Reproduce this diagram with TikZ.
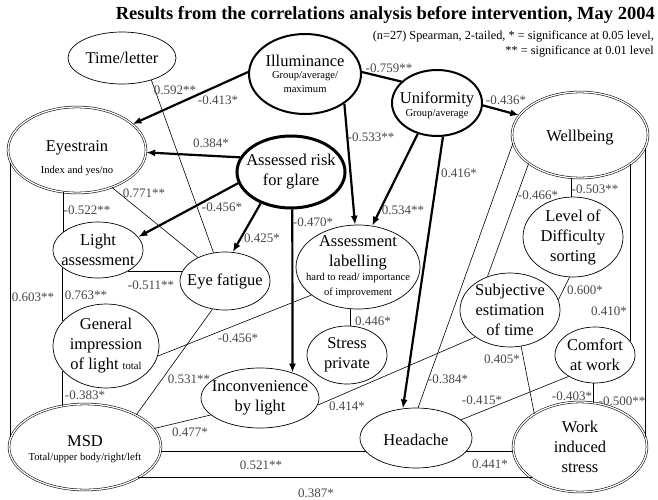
\documentclass[tikz,border=0pt]{standalone}
\usepackage{fontspec}
\setmainfont{Liberation Serif}
\usetikzlibrary{arrows.meta,shapes.geometric}
\newcommand\smtxt{\fontsize{10.6}{12}\selectfont}
\newcommand\lbtxt{\fontsize{13}{15}\selectfont}
\begin{document}
\begin{tikzpicture}[x=1pt,y=-1pt,
  ell/.style={ellipse, draw, line width=0.7pt, inner sep=-12pt, align=center, font=\fontsize{16.5}{20}\selectfont},
  dbl/.style={double, double distance=1.3pt, line width=0.55pt},
  thk/.style={line width=2pt},
  thkk/.style={line width=3pt},
  conn/.style={line width=0.6pt},
  orth/.style={line width=0.9pt},
  thkl/.style={line width=2.2pt},
  arr/.style={line width=2.2pt, -{Latex[length=9pt,width=7pt]}},
  lbl/.style={font=\lbtxt, text=black!72, inner sep=0pt}]
\useasboundingbox (0,0) rectangle (658,500);
% title
\node[anchor=east, inner sep=0pt, font=\bfseries\fontsize{18.5}{20}\selectfont] (title) at (655,15) {Results from the correlations analysis before intervention, May 2004};
\node[anchor=east, inner sep=0pt, font=\fontsize{12.3}{15}\selectfont] (sub1) at (654,36) {(n=27) Spearman, 2-tailed, * = significance at 0.05 level,};
\node[anchor=east, inner sep=0pt, font=\fontsize{12.3}{15}\selectfont] (sub2) at (654,51) {** = significance at 0.01 level};
% nodes
\node[ell, minimum width=108pt, minimum height=52pt] (ti) at (122,58) {Time/letter};
\node[ell, thk, minimum width=112pt, minimum height=80pt] (il) at (305,74) {Illuminance\\[-8pt]{\smtxt Group/average/}\\[-6pt]{\smtxt maximum}};
\node[ell, thk, minimum width=90pt, minimum height=66pt] (un) at (437,103) {\rule{0pt}{17pt}Uniformity\\[-7pt]{\smtxt Group/average}};
\node[ell, dbl, minimum width=136pt, minimum height=86pt] (wb) at (580,135) {\rule{0pt}{16pt}Wellbeing};
\node[ell, dbl, minimum width=138pt, minimum height=86pt] (es) at (77,150) {\rule{0pt}{27pt}Eyestrain\\[2pt]{\smtxt Index and yes/no}};
\node[ell, thkk, minimum width=108pt, minimum height=72pt] (rg) at (291,172) {Assessed risk\\for glare};
\node[ell, minimum width=90pt, minimum height=56pt] (la) at (98,250) {Light\\assessment};
\node[ell, minimum width=90pt, minimum height=58pt] (ef) at (225,281) {Eye fatigue};
\node[ell, minimum width=106pt, minimum height=84pt] (gi) at (106,346) {General\\impression\\of light {\smtxt total}};
\node[ell, dbl, minimum width=152pt, minimum height=86pt] (msd) at (85,447) {\rule{0pt}{16pt}MSD\\[-6pt]{\smtxt Total/upper body/right/left}};
\node[ell, minimum width=124pt, minimum height=84pt] (al) at (358,267) {Assessment\\labelling\\[-6pt]{\smtxt hard to read/ importance}\\[-5pt]{\smtxt of improvement}};
\node[ell, minimum width=80pt, minimum height=58pt] (sp) at (347,355) {Stress\\private};
\node[ell, minimum width=118pt, minimum height=60pt] (ib) at (260,398) {Inconvenience\\by light};
\node[ell, minimum width=112pt, minimum height=60pt] (hd) at (416,438) {\rule{0pt}{15pt}Headache};
\node[ell, dbl, minimum width=134pt, minimum height=90pt] (ws) at (580,447) {Work\\induced\\stress};
\node[ell, minimum width=100pt, minimum height=80pt] (ld) at (573,237) {Level of\\Difficulty\\sorting};
\node[ell, minimum width=100pt, minimum height=74pt] (se) at (510,310) {Subjective\\estimation\\of time};
\node[ell, minimum width=80pt, minimum height=56pt] (cw) at (595,355) {Comfort\\at work};
% connectors
\draw[arr] (il.178) -- (es.25);
\draw[conn] (ti.-37) -- (ef.112);
\draw[arr] (rg.164) -- (es.-2);
\draw[thkl] (il.2) -- (un.149);
\draw[arr] (un.-3) -- (wb.162);
\draw[arr] (il.-37) -- (al.94);
\draw[arr] (un.-122) -- (al.71);
\draw[arr] (un.-80) -- (hd.114);
\draw[arr] (rg.-168) -- (la.18);
\draw[arr] (rg.-134) -- (ef.75);
\draw[arr] (rg.-88) -- (ib.38);
\draw[conn] (es.-47) -- (ef.139);
\draw[orth] (es.-108.4) -- (es.-108.4 |- la.153.3);
\draw[orth] (la.-153.3) -- (la.-153.3 |- gi.150.2);
\draw[orth] (gi.-150.2) -- (gi.-150.2 |- msd.118.1);
\draw[orth] (la.-35) -- (ef.166.7 |- la.-35);
\draw[orth] (es.-169.3) -- (es.-169.3 |- msd.172.5);
\draw[conn] (gi.-11.7) -- (al.-149.6);
\draw[conn] (msd.32) -- (ef.-114);
\draw[conn] (msd.15) -- (ib.-161);
\draw[conn] (ib.-7) -- (se.-142);
\draw[orth] (al.-100.9) -- (al.-100.9 |- sp.north);
\draw[conn] (hd.86) -- (wb.-173);
\draw[conn] (se.124) -- (wb.-151.7);
\draw[orth] (wb.-101.9) -- (wb.-101.9 |- ld.north);
\draw[conn] (ld.-95) -- (se.12);
\draw[orth] (wb.-30.3) -- (wb.-30.3 |- cw.21.2);
\draw[orth] (wb.-11) -- (wb.-11 |- ws.9.5);
\draw[orth] (cw.-94) -- (cw.-94 |- ws.73.6);
\draw[conn] (cw.-141) -- (hd.22);
\draw[conn] (se.-73) -- (ws.144);
\draw[orth] (msd.-3.8) -- (hd.-164.2 |- msd.-3.8);
\draw[orth] (hd.-15.8) -- (ws.-175.7 |- hd.-15.8);
\draw[orth] (msd.-30.5) -- (ws.-147.5 |- msd.-30.5);
% labels
\node[lbl] (l01) at (175,90) {0.592**};
\node[lbl] (l02) at (218,100) {-0.413*};
\node[lbl] (l03) at (211,143) {0.384*};
\node[lbl] (l04) at (389,68) {-0.759**};
\node[lbl] (l05) at (506,100) {-0.436*};
\node[lbl] (l06) at (371,137) {-0.533**};
\node[lbl] (l07) at (403,210) {0.534**};
\node[lbl] (l08) at (459,173) {0.416*};
\node[lbl] (l09) at (144,193) {0.771**};
\node[lbl] (l10) at (87,210) {-0.522**};
\node[lbl] (l11) at (222,207) {-0.456*};
\node[lbl] (l12) at (262,238) {0.425*};
\node[lbl] (l13) at (313,222) {-0.470*};
\node[lbl] (l14) at (151,285) {-0.511**};
\node[lbl] (l15) at (86,295) {0.763**};
\node[lbl] (l16) at (33,297) {0.603**};
\node[lbl] (l17) at (85,395) {-0.383*};
\node[lbl] (l18) at (238,338) {-0.456*};
\node[lbl] (l19) at (189,379) {0.531**};
\node[lbl] (l20) at (190,432) {0.477*};
\node[lbl] (l21) at (347,406) {0.414*};
\node[lbl] (l22) at (373,321) {0.446*};
\node[lbl] (l23) at (448,379) {-0.384*};
\node[lbl] (l24) at (482,400) {-0.415*};
\node[lbl] (l25) at (502,359) {0.405*};
\node[lbl] (l26) at (572,396) {-0.403*};
\node[lbl] (l27) at (622,401) {-0.500**};
\node[lbl] (l28) at (609,311) {0.410*};
\node[lbl] (l29) at (585,290) {0.600*};
\node[lbl] (l30) at (595,189) {-0.503**};
\node[lbl] (l31) at (538,195) {-0.466*};
\node[lbl] (l32) at (261,465) {0.521**};
\node[lbl] (l33) at (490,464) {0.441*};
\node[lbl] (l34) at (316,493) {0.387*};
\end{tikzpicture}
\end{document}
